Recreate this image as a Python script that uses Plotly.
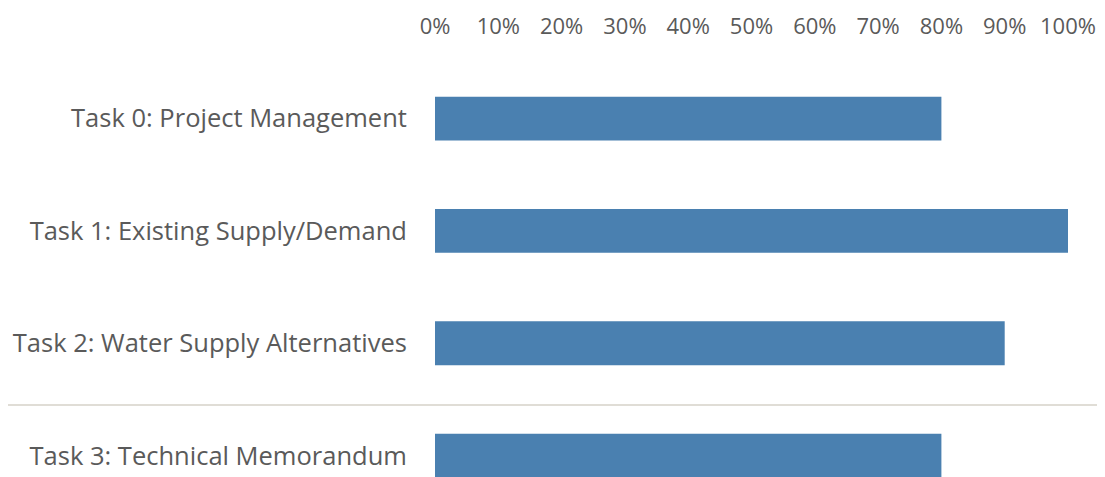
import plotly.graph_objects as go

tasks = ["Task 0: Project Management", "Task 1: Existing Supply/Demand",
         "Task 2: Water Supply Alternatives", "Task 3: Technical Memorandum"]
completion = [0.80, 1.00, 0.90, 0.80]
tick_vals = [0, 0.1, 0.2, 0.3, 0.4, 0.5, 0.6, 0.7, 0.8, 0.9, 1.0]
tick_text = ["0%", "10%", "20%", "30%", "40%", "50%", "60%", "70%", "80%", "90%", "100%"]

fig = go.Figure(go.Bar(
    x=completion, y=tasks, orientation="h",
    marker=dict(color="#4a80b0", line=dict(width=0)),
    hoverinfo="skip",
))

font_family = "'Open Sans', Lato, sans-serif"
fig.update_layout(
    width=1097, height=469,
    margin=dict(l=427, r=37, t=42, b=0),
    paper_bgcolor="white", plot_bgcolor="white",
    bargap=0.61,
    showlegend=False,
    font=dict(family=font_family, color="#5a5a5a", size=22),
    xaxis=dict(side="top", range=[0, 1], tickvals=tick_vals, ticktext=tick_text,
               showgrid=False, zeroline=False, showline=False,
               ticks="outside", ticklen=6, tickcolor="rgba(0,0,0,0)",
               tickfont=dict(size=22, color="#5a5a5a")),
    yaxis=dict(range=[3.19, -0.61], showgrid=False, zeroline=False, showline=False,
               ticks="outside", ticklen=22, tickcolor="rgba(0,0,0,0)",
               tickfont=dict(size=25.5, color="#5a5a5a")),
    shapes=[dict(type="line", xref="paper", yref="y", x0=-0.7, x1=1.1,
                 y0=2.55, y1=2.55, line=dict(color="#d6d2c8", width=1.5))],
)

fig.write_html("out.html")
